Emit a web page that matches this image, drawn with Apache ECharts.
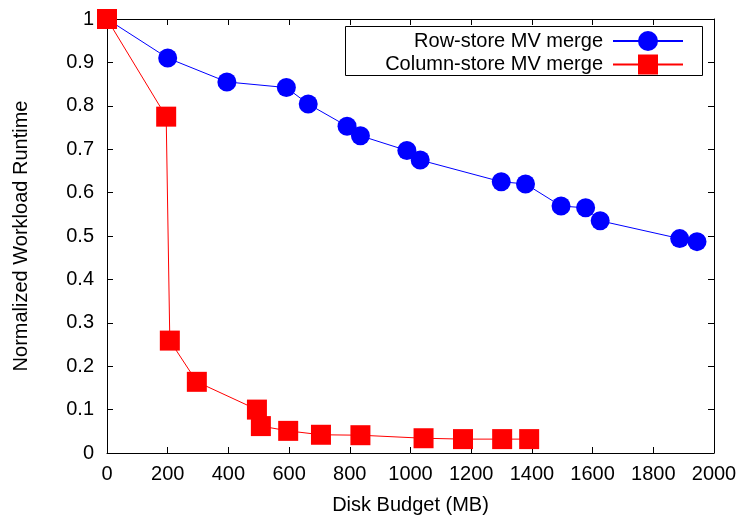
<!DOCTYPE html>
<html>
<head>
<meta charset="utf-8">
<script src="https://cdn.jsdelivr.net/npm/echarts@6/dist/echarts.min.js"></script>
<style>
  html, body { margin: 0; padding: 0; background: #fff; }
  #chart { width: 742px; height: 520px; }
</style>
</head>
<body>
<div id="chart"></div>
<script>
// Disk budget (MB) and normalized runtime for each merge strategy
const rowBudget = [0, 200, 395, 591, 663, 791, 835, 988, 1032, 1299, 1379, 1496, 1577, 1625, 1887, 1944];
const rowRuntime = [1.0, 0.910, 0.855, 0.842, 0.804, 0.753, 0.731, 0.697, 0.675, 0.625, 0.620, 0.569, 0.565, 0.535, 0.494, 0.487];

const colBudget = [0, 195, 207, 296, 494, 507, 597, 705, 835, 1043, 1173, 1302, 1391];
const colRuntime = [1.0, 0.775, 0.259, 0.164, 0.100, 0.062, 0.051, 0.042, 0.041, 0.034, 0.032, 0.032, 0.032];

const xTicks = { min: 0, max: 2000, step: 200 };
const yTicks = { min: 0, max: 1, step: 0.1 };

const FONT = '"Liberation Sans", Arial, sans-serif';
const FS = 20;
const pairs = (xs, ys) => xs.map((x, i) => [x, ys[i]]);

const axisLineStyle = { show: true, onZero: false, lineStyle: { color: '#000', width: 1 } };
const tickStyle = { show: true, inside: true, length: 6, lineStyle: { color: '#000', width: 1 } };

const chart = echarts.init(document.getElementById('chart'), null, { renderer: 'canvas' });
chart.setOption({
  backgroundColor: '#fff',
  animation: false,
  textStyle: { fontFamily: FONT },
  grid: { left: 107, right: 28, top: 19, bottom: 64, containLabel: false },
  xAxis: [
    {
      type: 'value', position: 'bottom',
      min: xTicks.min, max: xTicks.max, interval: xTicks.step,
      name: 'Disk Budget (MB)', nameLocation: 'middle', nameGap: 42,
      nameTextStyle: { fontSize: FS, color: '#000', fontFamily: FONT },
      axisLine: axisLineStyle, axisTick: tickStyle,
      axisLabel: { fontSize: FS, color: '#000', margin: 11, fontFamily: FONT, formatter: v => String(v) },
      splitLine: { show: false }
    },
    {
      type: 'value', position: 'top',
      min: xTicks.min, max: xTicks.max, interval: xTicks.step,
      axisLine: axisLineStyle, axisTick: tickStyle,
      axisLabel: { show: false }, splitLine: { show: false }
    }
  ],
  yAxis: [
    {
      type: 'value', position: 'left',
      min: yTicks.min, max: yTicks.max, interval: yTicks.step,
      name: 'Normalized Workload Runtime', nameLocation: 'middle', nameGap: 76,
      nameTextStyle: { fontSize: FS, color: '#000', fontFamily: FONT },
      axisLine: axisLineStyle, axisTick: tickStyle,
      axisLabel: { fontSize: FS, color: '#000', margin: 13, fontFamily: FONT },
      splitLine: { show: false }
    },
    {
      type: 'value', position: 'right',
      min: yTicks.min, max: yTicks.max, interval: yTicks.step,
      axisLine: axisLineStyle, axisTick: tickStyle,
      axisLabel: { show: false }, splitLine: { show: false }
    }
  ],
  legend: [
    {
      data: ['Row-store MV merge'],
      align: 'right', right: 53, top: 26,
      itemWidth: 70, itemHeight: 25,
      textStyle: { fontSize: FS, color: '#000', fontFamily: FONT, padding: [0, 5, 0, 0] },
      selectedMode: false
    },
    {
      data: ['Column-store MV merge'],
      align: 'right', right: 53, top: 49.5,
      itemWidth: 70, itemHeight: 25,
      textStyle: { fontSize: FS, color: '#000', fontFamily: FONT, padding: [0, 5, 0, 0] },
      selectedMode: false
    }
  ],
  graphic: [
    {
      type: 'rect', left: 345, top: 26, z: 5,
      shape: { width: 357, height: 49 },
      style: { fill: 'rgba(0,0,0,0)', stroke: '#000', lineWidth: 1 }
    }
  ],
  series: [
    {
      name: 'Row-store MV merge', type: 'line',
      data: pairs(rowBudget, rowRuntime),
      symbol: 'circle', symbolSize: 19, clip: false,
      lineStyle: { color: '#0000ff', width: 1 },
      itemStyle: { color: '#0000ff' },
      z: 2
    },
    {
      name: 'Column-store MV merge', type: 'line',
      data: pairs(colBudget, colRuntime),
      symbol: 'rect', symbolSize: 20, clip: false,
      lineStyle: { color: '#ff0000', width: 1 },
      itemStyle: { color: '#ff0000' },
      z: 3
    }
  ]
});
</script>
</body>
</html>
